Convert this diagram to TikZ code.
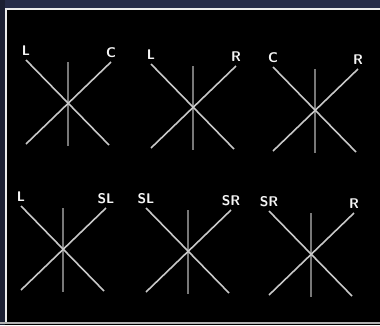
\documentclass[tikz,border=0pt]{standalone}
\usepackage{tikz}
\usetikzlibrary{positioning}
\definecolor{scope}{RGB}{200,200,200}
\definecolor{haze}{RGB}{38,44,72}
\begin{document}
\begin{tikzpicture}[
  x=1pt,y=-1pt,
  trace/.style={draw=scope,line width=1.6pt},
  centre/.style={draw=scope!60!black,line width=1.1pt},
  frame/.style={draw=white!85!gray,line width=1.8pt},
  lbl/.style={text=white!92!gray,font=\fontsize{14}{14}\sffamily\bfseries,inner sep=0pt}
]
\useasboundingbox (0,0) rectangle (380,325);
\fill[black] (0,0) rectangle (380,325);
\fill[haze] (0,0) rectangle (380,8);
\fill[haze!70!black] (0,0) rectangle (5,325);
\draw[frame] (6,322) -- (6,9) -- (380,9);
\draw[frame,draw=gray!60] (0,323) -- (380,323);
% six phase displays
\foreach \id/\cx/\cy/\la/\lb in {a/68/103/L/C,b/193/107/L/R,c/315/110/C/R,
                                 d/63/249/L/SL,e/188/251/SL/SR,f/311/254/SR/R}{
  \coordinate (\id-tl) at (\cx-42,\cy-43);
  \coordinate (\id-tr) at (\cx+43,\cy-41);
  \coordinate (\id-bl) at (\cx-42,\cy+41);
  \coordinate (\id-br) at (\cx+41,\cy+42);
  \coordinate (\id-t) at (\cx,\cy-41);
  \coordinate (\id-b) at (\cx,\cy+43);
  \draw[centre] (\id-t) -- (\id-b);
  \draw[trace] (\id-tl) -- (\id-br);
  \draw[trace] (\id-tr) -- (\id-bl);
  \node[lbl,above=4pt of \id-tl] (\id-la) {\la};
  \node[lbl,above=4pt of \id-tr] (\id-lb) {\lb};
}
\end{tikzpicture}
\end{document}
